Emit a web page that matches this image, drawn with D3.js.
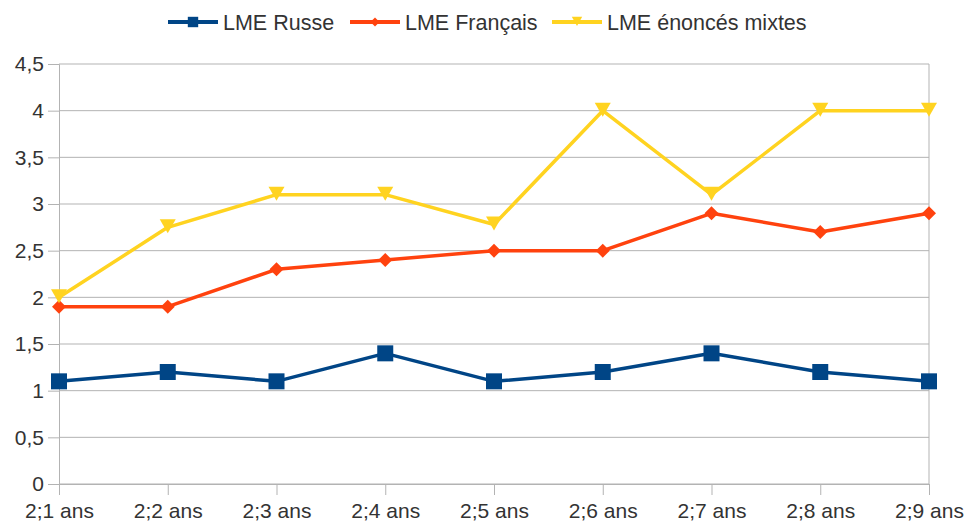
<!DOCTYPE html>
<html><head><meta charset="utf-8">
<script src="https://cdn.jsdelivr.net/npm/d3@7"></script>
<style>body{margin:0;background:#fff}svg{display:block;font-family:"Liberation Sans",Arial,sans-serif}</style>
</head><body><svg id="c" width="965" height="521"></svg>
<script>
const categories = ["2;1 ans","2;2 ans","2;3 ans","2;4 ans","2;5 ans","2;6 ans","2;7 ans","2;8 ans","2;9 ans"];
const russe = [1.1,1.2,1.1,1.4,1.1,1.2,1.4,1.2,1.1];
const francais = [1.9,1.9,2.3,2.4,2.5,2.5,2.9,2.7,2.9];
const mixtes = [2.0,2.75,3.1,3.1,2.78,4.0,3.1,4.0,4.0];
const seriesNames = ["LME Russe","LME Français","LME énoncés mixtes"];
const yTicks = [0,0.5,1,1.5,2,2.5,3,3.5,4,4.5];

const series = [
  {name: seriesNames[0], values: russe, color: "#004586", shape: "square"},
  {name: seriesNames[1], values: francais, color: "#ff420e", shape: "diamond"},
  {name: seriesNames[2], values: mixtes, color: "#ffd320", shape: "tri"}
];

const svg = d3.select("#c");
const L = 59, R = 929, T = 64, B = 484;
const x = d3.scalePoint().domain(categories).range([L, R]).padding(0);
const y = d3.scaleLinear().domain([0, 4.5]).range([B, T]);

svg.append("g").selectAll("line").data(yTicks).join("line")
  .attr("x1", L).attr("x2", R).attr("y1", d => y(d)).attr("y2", d => y(d))
  .attr("stroke", "#b3b3b3").attr("stroke-width", 1);
svg.append("line").attr("x1", R).attr("x2", R).attr("y1", T).attr("y2", B).attr("stroke", "#b3b3b3");

const fmt = d => String(d).replace(".", ",");
const yAxis = d3.axisLeft(y).tickValues(yTicks).tickFormat(fmt).tickSize(11).tickPadding(4);
const gy = svg.append("g").attr("transform", `translate(${L},0)`).call(yAxis);
gy.select(".domain").attr("stroke", "#b3b3b3");
gy.selectAll(".tick line").attr("stroke", "#b3b3b3");
gy.selectAll("text").attr("font-size", 21).attr("fill", "#333").attr("font-family", "Liberation Sans, Arial, sans-serif");

const xAxis = d3.axisBottom(x).tickSize(11).tickPadding(8);
const gx = svg.append("g").attr("transform", `translate(0,${B})`).call(xAxis);
gx.select(".domain").attr("stroke", "#b3b3b3");
gx.selectAll(".tick line").attr("stroke", "#b3b3b3");
gx.selectAll("text").attr("font-size", 21).attr("fill", "#333").attr("font-family", "Liberation Sans, Arial, sans-serif");

function marker(g, shape, color, cx, cy, k) {
  k = k || 1;
  if (shape === "square") {
    g.append("rect").attr("x", cx - 8*k).attr("y", cy - 8*k).attr("width", 16*k).attr("height", 16*k).attr("fill", color);
  } else if (shape === "diamond") {
    g.append("path").attr("d", `M${cx},${cy-7*k}L${cx+7*k},${cy}L${cx},${cy+7*k}L${cx-7*k},${cy}Z`).attr("fill", color);
  } else {
    g.append("path").attr("d", `M${cx-8*k},${cy-8*k}L${cx+8*k},${cy-8*k}L${cx},${cy+6*k}Z`).attr("fill", color);
  }
}

const line = d3.line().x((d, i) => x(categories[i])).y(d => y(d));
series.forEach(s => {
  const g = svg.append("g");
  g.append("path").attr("d", line(s.values)).attr("fill", "none").attr("stroke", s.color).attr("stroke-width", 3.5).attr("stroke-linejoin", "round");
  s.values.forEach((v, i) => marker(g, s.shape, s.color, x(categories[i]), y(v)));
});

const legX = [168, 350, 552];
const legY = 22;
series.forEach((s, i) => {
  const g = svg.append("g");
  g.append("line").attr("x1", legX[i]).attr("x2", legX[i] + 50).attr("y1", legY).attr("y2", legY).attr("stroke", s.color).attr("stroke-width", 4);
  marker(g, s.shape, s.color, legX[i] + 25, legY, 0.65);
  g.append("text").attr("x", legX[i] + 55).attr("y", 30).attr("font-size", 21.5).attr("fill", "#333").text(s.name);
});
</script></body></html>
